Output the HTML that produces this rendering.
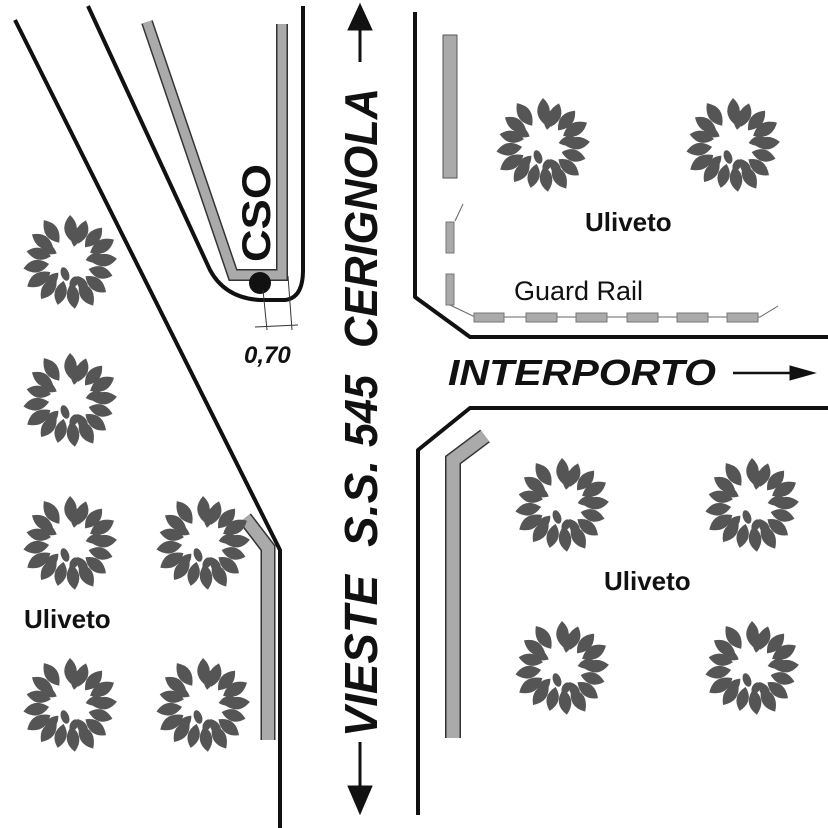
<!DOCTYPE html>
<html><head><style>html,body{margin:0;padding:0;background:#fff}svg{display:block}</style></head><body>
<svg width="828" height="828" viewBox="0 0 828 828" xmlns="http://www.w3.org/2000/svg">
<defs>
<path id="leaf" d="M0,-47 Q13,-35 1,-21 Q-12,-33 0,-47Z"/>
<g id="tree" fill="#555">
<use href="#leaf" transform="rotate(0)"/>
<use href="#leaf" transform="rotate(21) scale(0.95)"/>
<use href="#leaf" transform="rotate(43)"/>
<use href="#leaf" transform="rotate(63) scale(1.05)"/>
<use href="#leaf" transform="rotate(86)"/>
<use href="#leaf" transform="rotate(108) scale(0.95)"/>
<use href="#leaf" transform="rotate(130)"/>
<use href="#leaf" transform="rotate(152) scale(1.05)"/>
<use href="#leaf" transform="rotate(174)"/>
<use href="#leaf" transform="rotate(196) scale(0.95)"/>
<use href="#leaf" transform="rotate(218)"/>
<use href="#leaf" transform="rotate(240) scale(1.05)"/>
<use href="#leaf" transform="rotate(262)"/>
<use href="#leaf" transform="rotate(284) scale(0.95)"/>
<use href="#leaf" transform="rotate(306)"/>
<use href="#leaf" transform="rotate(328) scale(1.05)"/>
<use href="#leaf" transform="rotate(12) scale(0.75)"/>
<use href="#leaf" transform="rotate(80) scale(0.75)"/>
<use href="#leaf" transform="rotate(150) scale(0.75)"/>
<use href="#leaf" transform="rotate(225) scale(0.75)"/>
<use href="#leaf" transform="rotate(300) scale(0.75)"/>
<ellipse cx="-5" cy="12" rx="4" ry="7" transform="rotate(-20 -5 12)"/>
<ellipse cx="4" cy="20" rx="4" ry="6" transform="rotate(30 4 20)"/>
</g>
</defs>
<g fill="none" stroke="#111" stroke-width="4" stroke-linejoin="round">
<path d="M15,20 L280,550 L280,828"/>
<path d="M88,6 L210,270 Q225,298 260,300 L285,300 Q303,298 303,270 L303,6"/>
<path d="M415,12 L415,297 L470,337 L828,337"/>
<path d="M828,408 L470,408 L418,450 L418,815"/>
</g>
<g fill="none" stroke-linejoin="miter">
<path d="M147,22 L233,275 L282,275 L282,24" stroke="#333" stroke-width="12"/>
<path d="M147,22 L233,275 L282,275 L282,24" stroke="#aaa" stroke-width="9"/>
<path d="M245,518 L268,548 L268,740" stroke="#333" stroke-width="15"/>
<path d="M245,518 L268,548 L268,740" stroke="#aaa" stroke-width="12"/>
<path d="M485,436 L453,460 L453,738" stroke="#333" stroke-width="16"/>
<path d="M485,436 L453,460 L453,738" stroke="#aaa" stroke-width="13"/>
</g>
<rect x="443" y="35" width="14" height="143" fill="#aaa" stroke="#555"/>
<g stroke="#666" stroke-width="1" fill="none">
<path d="M455,221 L463,204"/>
<path d="M450,305 L475,317 L760,317 L778,306"/>
</g>
<g fill="#aaa" stroke="#777">
<rect x="446" y="222" width="8" height="31"/>
<rect x="446" y="274" width="8" height="31"/>
<rect x="474" y="313" width="30" height="9"/>
<rect x="526" y="313" width="31" height="9"/>
<rect x="576" y="313" width="31" height="9"/>
<rect x="627" y="313" width="31" height="9"/>
<rect x="677" y="313" width="31" height="9"/>
<rect x="727" y="313" width="31" height="9"/>
</g>
<circle cx="260" cy="283" r="11" fill="#111"/>
<g stroke="#333" stroke-width="1">
<path d="M263,290 L267,330 M288,276 L292,330 M255,327 L298,325"/>
</g>
<g>
<use href="#tree" x="543" y="145"/><use href="#tree" x="733" y="145"/>
<use href="#tree" x="70" y="262"/><use href="#tree" x="70" y="400"/>
<use href="#tree" x="70" y="543"/><use href="#tree" x="203" y="543"/>
<use href="#tree" x="70" y="705"/><use href="#tree" x="203" y="705"/>
<use href="#tree" x="562" y="505"/><use href="#tree" x="752" y="505"/>
<use href="#tree" x="562" y="668"/><use href="#tree" x="752" y="668"/>
</g>
<g fill="#111" stroke="#111">
<path d="M360,62 L360,25" stroke-width="3"/>
<path d="M348,30 L360,4 L372,30 Z"/>
<path d="M360,742 L360,790" stroke-width="3"/>
<path d="M348,786 L360,814 L372,786 Z"/>
<path d="M733,373 L795,373" stroke-width="2.5"/>
<path d="M790,366 L815,373 L790,380 Z"/>
</g>
<g font-family="Liberation Sans, sans-serif" font-weight="bold" font-style="italic" font-size="46" fill="#111">
<text transform="rotate(-90)" x="-348" y="377" textLength="260" lengthAdjust="spacingAndGlyphs">CERIGNOLA</text>
<text transform="rotate(-90)" x="-447" y="377" textLength="72" lengthAdjust="spacingAndGlyphs">545</text>
<text transform="rotate(-90)" x="-547" y="377" textLength="87" lengthAdjust="spacingAndGlyphs">S.S.</text>
<text transform="rotate(-90)" x="-737" y="377" textLength="162" lengthAdjust="spacingAndGlyphs">VIESTE</text>
</g>
<text transform="rotate(-90)" x="-262" y="270" font-family="Liberation Sans, sans-serif" font-weight="bold" font-size="40" fill="#111" textLength="98" lengthAdjust="spacingAndGlyphs">CSO</text>
<text x="448" y="385" font-family="Liberation Sans, sans-serif" font-weight="bold" font-style="italic" font-size="36" fill="#111" textLength="268" lengthAdjust="spacingAndGlyphs">INTERPORTO</text>
<g font-family="Liberation Sans, sans-serif" font-weight="bold" font-size="26" fill="#111">
<text x="585" y="231">Uliveto</text>
<text x="604" y="590">Uliveto</text>
<text x="24" y="628">Uliveto</text>
</g>
<text x="514" y="300" font-family="Liberation Sans, sans-serif" font-size="27" fill="#111">Guard Rail</text>
<text x="244" y="363" font-family="Liberation Sans, sans-serif" font-weight="bold" font-style="italic" font-size="24" fill="#111">0,70</text>
</svg>
</body></html>
